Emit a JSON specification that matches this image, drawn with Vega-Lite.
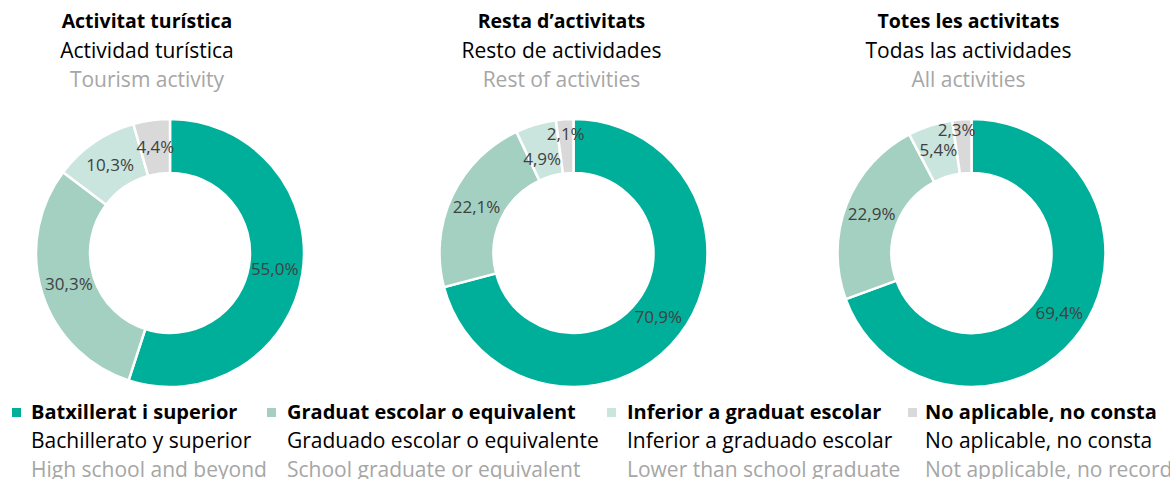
{
  "$schema": "https://vega.github.io/schema/vega-lite/v6.json",
  "padding": {"top": 12, "left": 0, "right": 0, "bottom": 0},
  "background": "white",
  "autosize": {"type": "pad"},
  "config": {
    "view": {"stroke": null},
    "font": "Open Sans",
    "title": {"anchor": "middle", "fontSize": 19.5, "color": "#000000", "subtitleColor": "#000000", "subtitleFontSize": 21, "subtitleFont": "Open Sans", "font": "Open Sans"}
  },
  "datasets": {
    "donuts": [
      {"panel": "tur", "cat": "Batxillerat i superior", "ord": 1, "value": 55.0},
      {"panel": "tur", "cat": "Graduat escolar o equivalent", "ord": 2, "value": 30.3},
      {"panel": "tur", "cat": "Inferior a graduat escolar", "ord": 3, "value": 10.3},
      {"panel": "tur", "cat": "No aplicable, no consta", "ord": 4, "value": 4.4},
      {"panel": "rest", "cat": "Batxillerat i superior", "ord": 1, "value": 70.9},
      {"panel": "rest", "cat": "Graduat escolar o equivalent", "ord": 2, "value": 22.1},
      {"panel": "rest", "cat": "Inferior a graduat escolar", "ord": 3, "value": 4.9},
      {"panel": "rest", "cat": "No aplicable, no consta", "ord": 4, "value": 2.1},
      {"panel": "all", "cat": "Batxillerat i superior", "ord": 1, "value": 69.4},
      {"panel": "all", "cat": "Graduat escolar o equivalent", "ord": 2, "value": 22.9},
      {"panel": "all", "cat": "Inferior a graduat escolar", "ord": 3, "value": 5.4},
      {"panel": "all", "cat": "No aplicable, no consta", "ord": 4, "value": 2.3}
    ],
    "legend": [
      {"cat": "Batxillerat i superior", "line": 1, "label": "Batxillerat i superior"},
      {"cat": "Batxillerat i superior", "line": 2, "label": "Bachillerato y superior"},
      {"cat": "Batxillerat i superior", "line": 3, "label": "High school and beyond"},
      {"cat": "Graduat escolar o equivalent", "line": 1, "label": "Graduat escolar o equivalent"},
      {"cat": "Graduat escolar o equivalent", "line": 2, "label": "Graduado escolar o equivalente"},
      {"cat": "Graduat escolar o equivalent", "line": 3, "label": "School graduate or equivalent"},
      {"cat": "Inferior a graduat escolar", "line": 1, "label": "Inferior a graduat escolar"},
      {"cat": "Inferior a graduat escolar", "line": 2, "label": "Inferior a graduado escolar"},
      {"cat": "Inferior a graduat escolar", "line": 3, "label": "Lower than school graduate"},
      {"cat": "No aplicable, no consta", "line": 1, "label": "No aplicable, no consta"},
      {"cat": "No aplicable, no consta", "line": 2, "label": "No aplicable, no consta"},
      {"cat": "No aplicable, no consta", "line": 3, "label": "Not applicable, no record"}
    ]
  },
  "spacing": 6,
  "vconcat": [
    {
      "spacing": 0,
      "hconcat": [
        {
          "title": {"text": "Activitat turística", "subtitle": "Actividad turística", "fontWeight": "bold", "dx": -23, "subtitlePadding": 8, "offset": 7},
          "vconcat": [
            {
              "title": {"text": "Tourism activity", "color": "#A6A6A6", "fontWeight": "normal", "fontSize": 21, "dx": -23, "offset": 23.5},
              "width": 340, "height": 268,
              "data": {"name": "donuts"},
              "transform": [
                {"filter": "datum.panel == 'tur'"},
                {"stack": "value", "sort": [{"field": "ord", "order": "ascending"}], "groupby": [], "as": ["v0", "v1"]},
                {"calculate": "(datum.v0 + datum.v1) / 2", "as": "mid"},
                {"calculate": "replace(format(datum.value, '.1f'), '.', ',') + '%'", "as": "label"}
              ],
              "layer": [
                {
                  "mark": {"type": "arc", "innerRadius": 80, "outerRadius": 134, "stroke": "white", "strokeWidth": 2.5},
                  "encoding": {
                    "theta": {"field": "v0", "type": "quantitative", "scale": {"domain": [0, 100]}},
                    "theta2": {"field": "v1"},
                    "color": {"field": "cat", "type": "nominal", "legend": null,
                      "scale": {"domain": ["Batxillerat i superior", "Graduat escolar o equivalent", "Inferior a graduat escolar", "No aplicable, no consta"],
                                "range": ["#00AF9A", "#A3D0C1", "#CAE5DD", "#D9D9D9"]}}
                  }
                },
                {
                  "mark": {"type": "text", "radius": 106, "fontSize": 17, "color": "#404040"},
                  "encoding": {
                    "theta": {"field": "mid", "type": "quantitative"},
                    "text": {"field": "label", "type": "nominal"}
                  }
                }
              ]
            }
          ]
        },
        {
          "title": {"text": "Resta d’activitats", "subtitle": "Resto de actividades", "fontWeight": "bold", "dx": -12, "subtitlePadding": 8, "offset": 7},
          "vconcat": [
            {
              "title": {"text": "Rest of activities", "color": "#A6A6A6", "fontWeight": "normal", "fontSize": 21, "dx": -12, "offset": 23.5},
              "width": 467, "height": 268,
              "data": {"name": "donuts"},
              "transform": [
                {"filter": "datum.panel == 'rest'"},
                {"stack": "value", "sort": [{"field": "ord", "order": "ascending"}], "groupby": [], "as": ["v0", "v1"]},
                {"calculate": "(datum.v0 + datum.v1) / 2", "as": "mid"},
                {"calculate": "replace(format(datum.value, '.1f'), '.', ',') + '%'", "as": "label"}
              ],
              "layer": [
                {
                  "mark": {"type": "arc", "innerRadius": 80, "outerRadius": 134, "stroke": "white", "strokeWidth": 2.5},
                  "encoding": {
                    "theta": {"field": "v0", "type": "quantitative", "scale": {"domain": [0, 100]}},
                    "theta2": {"field": "v1"},
                    "color": {"field": "cat", "type": "nominal", "legend": null,
                      "scale": {"domain": ["Batxillerat i superior", "Graduat escolar o equivalent", "Inferior a graduat escolar", "No aplicable, no consta"],
                                "range": ["#00AF9A", "#A3D0C1", "#CAE5DD", "#D9D9D9"]}}
                  }
                },
                {
                  "transform": [{"filter": "datum.ord <= 2"}],
                  "mark": {"type": "text", "radius": 107, "fontSize": 17, "color": "#404040"},
                  "encoding": {
                    "theta": {"field": "mid", "type": "quantitative"},
                    "text": {"field": "label", "type": "nominal"}
                  }
                },
                {
                  "transform": [{"filter": "datum.ord == 3"}],
                  "mark": {"type": "text", "radius": 97, "dx": -4, "fontSize": 17, "color": "#404040"},
                  "encoding": {
                    "theta": {"field": "mid", "type": "quantitative"},
                    "text": {"field": "label", "type": "nominal"}
                  }
                },
                {
                  "transform": [{"filter": "datum.ord == 4"}],
                  "mark": {"type": "text", "radius": 118, "fontSize": 17, "color": "#404040"},
                  "encoding": {
                    "theta": {"field": "mid", "type": "quantitative"},
                    "text": {"field": "label", "type": "nominal"}
                  }
                }
              ]
            }
          ]
        },
        {
          "title": {"text": "Totes les activitats", "subtitle": "Todas las actividades", "fontWeight": "bold", "dx": -3, "subtitlePadding": 8, "offset": 7},
          "vconcat": [
            {
              "title": {"text": "All activities", "color": "#A6A6A6", "fontWeight": "normal", "fontSize": 21, "dx": -3, "offset": 23.5},
              "width": 329, "height": 268,
              "data": {"name": "donuts"},
              "transform": [
                {"filter": "datum.panel == 'all'"},
                {"stack": "value", "sort": [{"field": "ord", "order": "ascending"}], "groupby": [], "as": ["v0", "v1"]},
                {"calculate": "(datum.v0 + datum.v1) / 2", "as": "mid"},
                {"calculate": "replace(format(datum.value, '.1f'), '.', ',') + '%'", "as": "label"}
              ],
              "layer": [
                {
                  "mark": {"type": "arc", "innerRadius": 80, "outerRadius": 134, "stroke": "white", "strokeWidth": 2.5},
                  "encoding": {
                    "theta": {"field": "v0", "type": "quantitative", "scale": {"domain": [0, 100]}},
                    "theta2": {"field": "v1"},
                    "color": {"field": "cat", "type": "nominal", "legend": null,
                      "scale": {"domain": ["Batxillerat i superior", "Graduat escolar o equivalent", "Inferior a graduat escolar", "No aplicable, no consta"],
                                "range": ["#00AF9A", "#A3D0C1", "#CAE5DD", "#D9D9D9"]}}
                  }
                },
                {
                  "transform": [{"filter": "datum.ord <= 3"}],
                  "mark": {"type": "text", "radius": 107, "fontSize": 17, "color": "#404040"},
                  "encoding": {
                    "theta": {"field": "mid", "type": "quantitative"},
                    "text": {"field": "label", "type": "nominal"}
                  }
                },
                {
                  "transform": [{"filter": "datum.ord == 4"}],
                  "mark": {"type": "text", "radius": 122, "dx": -6, "fontSize": 17, "color": "#404040"},
                  "encoding": {
                    "theta": {"field": "mid", "type": "quantitative"},
                    "text": {"field": "label", "type": "nominal"}
                  }
                }
              ]
            }
          ]
        }
      ]
    },
    {
      "spacing": 0,
      "bounds": "flush",
      "hconcat": [
        {
          "width": 255, "height": 87,
          "data": {"name": "legend"},
          "transform": [{"filter": "datum.cat == 'Batxillerat i superior'"}],
          "encoding": {
            "x": {"field": "cat", "type": "nominal", "axis": null, "bandPosition": 0, "scale": {"type": "band", "paddingInner": 0, "paddingOuter": 0}},
            "y": {"field": "line", "type": "ordinal", "axis": null, "scale": {"type": "band", "paddingInner": 0, "paddingOuter": 0}}
          },
          "layer": [
            {"transform": [{"filter": "datum.line == 1"}],
             "mark": {"type": "square", "size": 81, "filled": true, "opacity": 1, "xOffset": 16.5},
             "encoding": {"color": {"field": "cat", "type": "nominal", "legend": null,
               "scale": {"domain": ["Batxillerat i superior", "Graduat escolar o equivalent", "Inferior a graduat escolar", "No aplicable, no consta"],
                         "range": ["#00AF9A", "#A3D0C1", "#CAE5DD", "#D9D9D9"]}}}},
            {"transform": [{"filter": "datum.line == 1"}],
             "mark": {"type": "text", "align": "left", "baseline": "middle", "fontSize": 20, "fontWeight": "bold", "color": "#000000", "xOffset": 31},
             "encoding": {"text": {"field": "label", "type": "nominal"}}},
            {"transform": [{"filter": "datum.line > 1"}],
             "mark": {"type": "text", "align": "left", "baseline": "middle", "fontSize": 21, "xOffset": 31},
             "encoding": {"text": {"field": "label", "type": "nominal"},
               "color": {"condition": {"test": "datum.line == 3", "value": "#A6A6A6"}, "value": "#000000"}}}
          ]
        },
        {
          "width": 340, "height": 87,
          "data": {"name": "legend"},
          "transform": [{"filter": "datum.cat == 'Graduat escolar o equivalent'"}],
          "encoding": {
            "x": {"field": "cat", "type": "nominal", "axis": null, "bandPosition": 0, "scale": {"type": "band", "paddingInner": 0, "paddingOuter": 0}},
            "y": {"field": "line", "type": "ordinal", "axis": null, "scale": {"type": "band", "paddingInner": 0, "paddingOuter": 0}}
          },
          "layer": [
            {"transform": [{"filter": "datum.line == 1"}],
             "mark": {"type": "square", "size": 81, "filled": true, "opacity": 1, "xOffset": 16.5},
             "encoding": {"color": {"field": "cat", "type": "nominal", "legend": null,
               "scale": {"domain": ["Batxillerat i superior", "Graduat escolar o equivalent", "Inferior a graduat escolar", "No aplicable, no consta"],
                         "range": ["#00AF9A", "#A3D0C1", "#CAE5DD", "#D9D9D9"]}}}},
            {"transform": [{"filter": "datum.line == 1"}],
             "mark": {"type": "text", "align": "left", "baseline": "middle", "fontSize": 20, "fontWeight": "bold", "color": "#000000", "xOffset": 32},
             "encoding": {"text": {"field": "label", "type": "nominal"}}},
            {"transform": [{"filter": "datum.line > 1"}],
             "mark": {"type": "text", "align": "left", "baseline": "middle", "fontSize": 21, "xOffset": 32},
             "encoding": {"text": {"field": "label", "type": "nominal"},
               "color": {"condition": {"test": "datum.line == 3", "value": "#A6A6A6"}, "value": "#000000"}}}
          ]
        },
        {
          "width": 301, "height": 87,
          "data": {"name": "legend"},
          "transform": [{"filter": "datum.cat == 'Inferior a graduat escolar'"}],
          "encoding": {
            "x": {"field": "cat", "type": "nominal", "axis": null, "bandPosition": 0, "scale": {"type": "band", "paddingInner": 0, "paddingOuter": 0}},
            "y": {"field": "line", "type": "ordinal", "axis": null, "scale": {"type": "band", "paddingInner": 0, "paddingOuter": 0}}
          },
          "layer": [
            {"transform": [{"filter": "datum.line == 1"}],
             "mark": {"type": "square", "size": 81, "filled": true, "opacity": 1, "xOffset": 16.5},
             "encoding": {"color": {"field": "cat", "type": "nominal", "legend": null,
               "scale": {"domain": ["Batxillerat i superior", "Graduat escolar o equivalent", "Inferior a graduat escolar", "No aplicable, no consta"],
                         "range": ["#00AF9A", "#A3D0C1", "#CAE5DD", "#D9D9D9"]}}}},
            {"transform": [{"filter": "datum.line == 1"}],
             "mark": {"type": "text", "align": "left", "baseline": "middle", "fontSize": 20, "fontWeight": "bold", "color": "#000000", "xOffset": 32},
             "encoding": {"text": {"field": "label", "type": "nominal"}}},
            {"transform": [{"filter": "datum.line > 1"}],
             "mark": {"type": "text", "align": "left", "baseline": "middle", "fontSize": 21, "xOffset": 32},
             "encoding": {"text": {"field": "label", "type": "nominal"},
               "color": {"condition": {"test": "datum.line == 3", "value": "#A6A6A6"}, "value": "#000000"}}}
          ]
        },
        {
          "width": 274, "height": 87,
          "data": {"name": "legend"},
          "transform": [{"filter": "datum.cat == 'No aplicable, no consta'"}],
          "encoding": {
            "x": {"field": "cat", "type": "nominal", "axis": null, "bandPosition": 0, "scale": {"type": "band", "paddingInner": 0, "paddingOuter": 0}},
            "y": {"field": "line", "type": "ordinal", "axis": null, "scale": {"type": "band", "paddingInner": 0, "paddingOuter": 0}}
          },
          "layer": [
            {"transform": [{"filter": "datum.line == 1"}],
             "mark": {"type": "square", "size": 81, "filled": true, "opacity": 1, "xOffset": 16.5},
             "encoding": {"color": {"field": "cat", "type": "nominal", "legend": null,
               "scale": {"domain": ["Batxillerat i superior", "Graduat escolar o equivalent", "Inferior a graduat escolar", "No aplicable, no consta"],
                         "range": ["#00AF9A", "#A3D0C1", "#CAE5DD", "#D9D9D9"]}}}},
            {"transform": [{"filter": "datum.line == 1"}],
             "mark": {"type": "text", "align": "left", "baseline": "middle", "fontSize": 20, "fontWeight": "bold", "color": "#000000", "xOffset": 29},
             "encoding": {"text": {"field": "label", "type": "nominal"}}},
            {"transform": [{"filter": "datum.line > 1"}],
             "mark": {"type": "text", "align": "left", "baseline": "middle", "fontSize": 21, "xOffset": 29},
             "encoding": {"text": {"field": "label", "type": "nominal"},
               "color": {"condition": {"test": "datum.line == 3", "value": "#A6A6A6"}, "value": "#000000"}}}
          ]
        }
      ]
    }
  ]
}
